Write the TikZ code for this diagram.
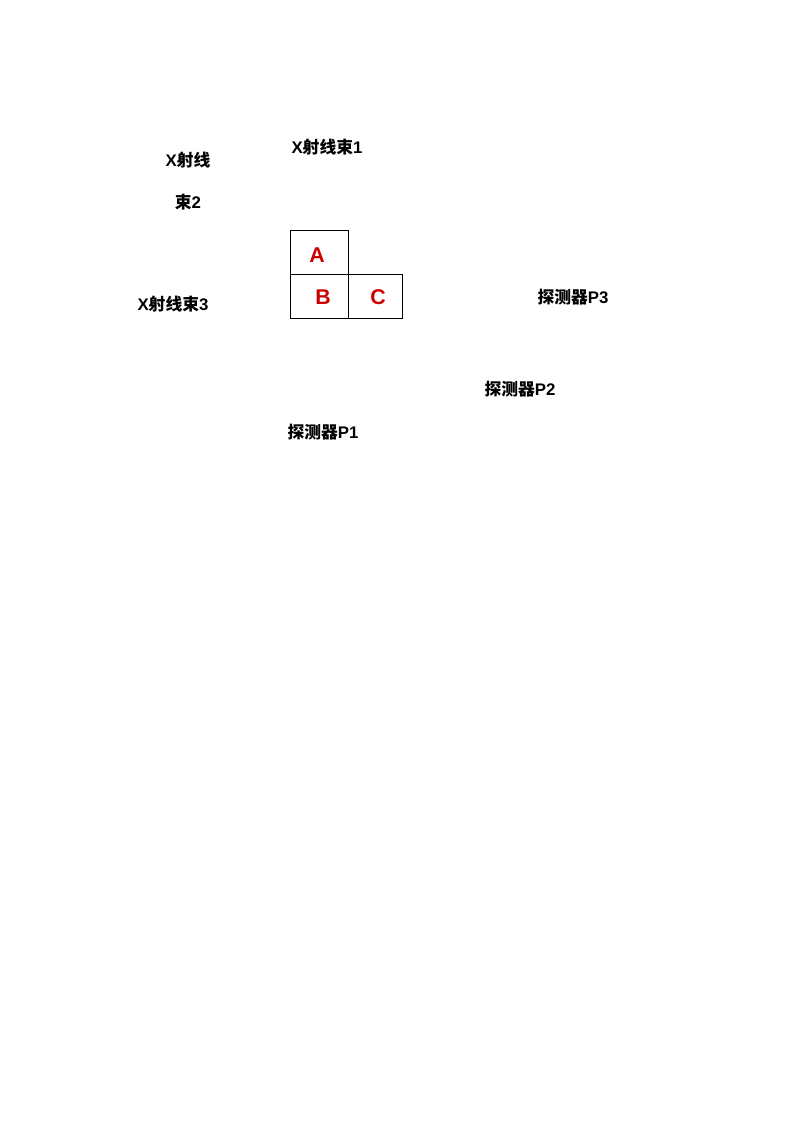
\documentclass[tikz,border=0pt]{standalone}
\usepackage{fontspec}
\setmainfont{Liberation Sans}
\newfontfamily\cjk{Noto Sans CJK SC}
\tikzset{
  lbl/.style={font=\fontsize{12.6}{14}\selectfont\bfseries, inner sep=0pt, anchor=center},
  letter/.style={font=\fontsize{16}{18}\selectfont\bfseries, text=red!80!black, inner sep=0pt},
  cellline/.style={line width=0.6pt, draw=black}
}
\begin{document}
\begin{tikzpicture}[x=0.75pt,y=-0.75pt]
\useasboundingbox (0,0) rectangle (794,1123);
\fill[white] (0,0) rectangle (794,1123);
% cells
\draw[cellline] (290,230) rectangle (348,274);
\draw[cellline] (290,274) rectangle (348,318);
\draw[cellline] (348,274) rectangle (402,318);
\node[letter] (A) at (317,255.5) {A};
\node[letter] (B) at (323,297.5) {B};
\node[letter] (C) at (378,297.5) {C};
% labels
\node[lbl] (b1) at (327,147) {X{\cjk 射线束}1};
\node[lbl] (b2a) at (188,160) {X{\cjk 射线}};
\node[lbl] (b2b) at (188,202) {{\cjk 束}2};
\node[lbl] (b3) at (173,304) {X{\cjk 射线束}3};
\node[lbl] (p3) at (573,297) {{\cjk 探测器}P3};
\node[lbl] (p2) at (520,389) {{\cjk 探测器}P2};
\node[lbl] (p1) at (323,432) {{\cjk 探测器}P1};
\end{tikzpicture}
\end{document}
